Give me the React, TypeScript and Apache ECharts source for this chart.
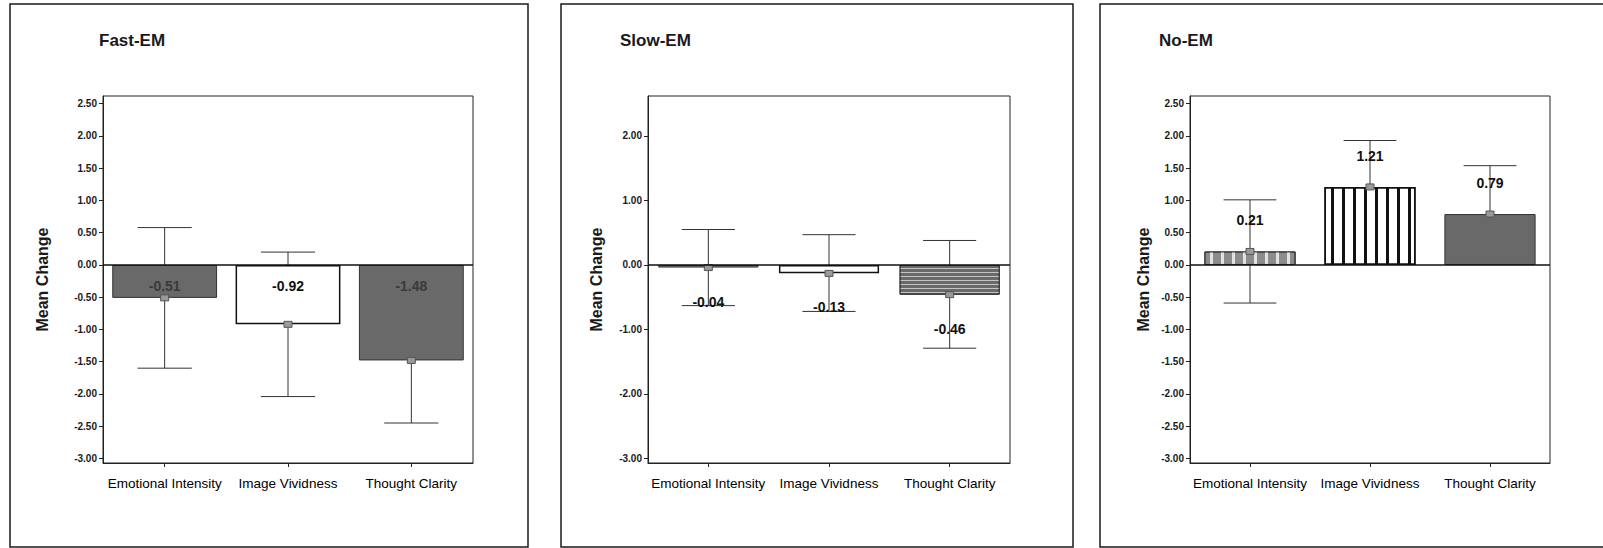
import React, { useEffect, useRef } from "react";
import * as echarts from "echarts";

// ---------- data ----------
const categories = ["Emotional Intensity", "Image Vividness", "Thought Clarity"];
const panelTitles = ["Fast-EM", "Slow-EM", "No-EM"];

const fastMeans = [-0.51, -0.92, -1.48];
const fastLow = [-1.6, -2.04, -2.45];
const fastHigh = [0.58, 0.2, -0.51];

const slowMeans = [-0.04, -0.13, -0.46];
const slowLow = [-0.63, -0.72, -1.29];
const slowHigh = [0.55, 0.47, 0.38];

const noMeans = [0.21, 1.21, 0.79];
const noLow = [-0.59, 0.49, 0.04];
const noHigh = [1.01, 1.93, 1.54];

const ticksHalf = [-3, -2.5, -2, -1.5, -1, -0.5, 0, 0.5, 1, 1.5, 2, 2.5];
const ticksOne = [-3, -2, -1, 0, 1, 2];

const yMin = -3.07;
const yMax = 2.62;

// ---------- styles ----------
const FONT = "Liberation Sans, Arial, Helvetica, sans-serif";
const DARK = "#696969";

const vStripesBlack = {
  symbol: "rect",
  symbolSize: 1,
  color: "#111",
  backgroundColor: "#fff",
  dashArrayX: [3, 8],
  dashArrayY: [1, 0],
  rotation: 0,
};
const vStripesLight = {
  symbol: "rect",
  symbolSize: 1,
  color: "#e2e2e2",
  backgroundColor: "#8c8c8c",
  dashArrayX: [3, 8],
  dashArrayY: [1, 0],
  rotation: 0,
};
const hStripesLight = {
  symbol: "rect",
  symbolSize: 1,
  color: "#c4c4c4",
  backgroundColor: "#6a6a6a",
  dashArrayX: [1, 0],
  dashArrayY: [1, 3],
  rotation: 0,
};

type Panel = {
  title: string;
  titleLeft: number;
  means: number[];
  low: number[];
  high: number[];
  ticks: number[];
  grid: { left: number; top: number; width: number; height: number };
  nameGap: number;
  barGap: string;
  itemStyles: any[];
  labelMode: "zero" | "below" | "above";
  labelColors: string[];
};

const panels: Panel[] = [
  {
    title: panelTitles[0],
    titleLeft: 99,
    means: fastMeans,
    low: fastLow,
    high: fastHigh,
    ticks: ticksHalf,
    grid: { left: 103, top: 96, width: 370, height: 367 },
    nameGap: 53,
    barGap: "15%",
    itemStyles: [
      { color: DARK, borderColor: "#333", borderWidth: 1 },
      { color: "#fff", borderColor: "#111", borderWidth: 1.5 },
      { color: DARK, borderColor: "#333", borderWidth: 1 },
    ],
    labelMode: "zero",
    labelColors: ["#3a3a3a", "#111", "#3a3a3a"],
  },
  {
    title: panelTitles[1],
    titleLeft: 620,
    means: slowMeans,
    low: slowLow,
    high: slowHigh,
    ticks: ticksOne,
    grid: { left: 648, top: 96, width: 362, height: 367 },
    nameGap: 44,
    barGap: "17%",
    itemStyles: [
      { color: "#777", borderColor: "#333", borderWidth: 1 },
      { color: "#fff", borderColor: "#111", borderWidth: 1.5 },
      { color: "#6a6a6a", borderColor: "#333", borderWidth: 1, decal: hStripesLight },
    ],
    labelMode: "below",
    labelColors: ["#111", "#111", "#111"],
  },
  {
    title: panelTitles[2],
    titleLeft: 1159,
    means: noMeans,
    low: noLow,
    high: noHigh,
    ticks: ticksHalf,
    grid: { left: 1190, top: 96, width: 360, height: 367 },
    nameGap: 39,
    barGap: "24%",
    itemStyles: [
      { color: "#8c8c8c", borderColor: "#333", borderWidth: 1, decal: vStripesLight },
      { color: "#fff", borderColor: "#111", borderWidth: 1.5, decal: vStripesBlack },
      { color: DARK, borderColor: "#333", borderWidth: 1 },
    ],
    labelMode: "above",
    labelColors: ["#111", "#111", "#111"],
  },
];

const frames = [
  { x: 10, y: 4, width: 518, height: 543 },
  { x: 561, y: 4, width: 512, height: 543 },
  { x: 1100, y: 4, width: 520, height: 543 },
];

function buildOption() {
  const grid: any[] = [];
  const xAxis: any[] = [];
  const yAxis: any[] = [];
  const series: any[] = [];
  const title: any[] = [];

  panels.forEach((p, gi) => {
    grid.push({
      ...p.grid,
      show: true,
      borderColor: "#222",
      borderWidth: 1,
      backgroundColor: "#fff",
      containLabel: false,
    });
    title.push({
      text: p.title,
      left: p.titleLeft,
      top: 32,
      padding: 0,
      textStyle: { fontFamily: FONT, fontSize: 17, fontWeight: "bold", color: "#1a1a1a" },
    });
    xAxis.push({
      type: "category",
      gridIndex: gi,
      data: categories,
      axisLine: { show: true, onZero: false, lineStyle: { color: "#222", width: 1 } },
      axisTick: { show: true, alignWithLabel: true, length: 4, lineStyle: { color: "#222" } },
      axisLabel: { fontFamily: FONT, fontSize: 13.5, color: "#000", margin: 13, interval: 0 },
      splitLine: { show: false },
    });
    yAxis.push({
      type: "value",
      gridIndex: gi,
      min: yMin,
      max: yMax,
      name: "Mean Change",
      nameLocation: "middle",
      nameGap: p.nameGap,
      nameTextStyle: { fontFamily: FONT, fontSize: 16, fontWeight: "bold", color: "#1a1a1a" },
      axisLine: { show: true, lineStyle: { color: "#222", width: 1 } },
      axisTick: { show: true, length: 4, customValues: p.ticks, lineStyle: { color: "#222" } },
      axisLabel: {
        customValues: p.ticks,
        formatter: (v: number) => v.toFixed(2),
        fontFamily: FONT,
        fontSize: 10,
        fontWeight: "bold",
        color: "#1a1a1a",
        margin: 6,
      },
      splitLine: { show: false },
    });

    // error bars (behind the bars)
    series.push({
      type: "custom",
      xAxisIndex: gi,
      yAxisIndex: gi,
      z: 1,
      silent: true,
      data: p.means.map((_, i) => [i, p.low[i], p.high[i]]),
      renderItem: (params: any, api: any) => {
        const i = api.value(0);
        const lo = api.coord([i, api.value(1)]);
        const hi = api.coord([i, api.value(2)]);
        const band = api.size([1, 0])[0];
        const half = band * 0.22;
        const style = { stroke: "#333", lineWidth: 1, fill: "none" };
        return {
          type: "group",
          children: [
            { type: "line", shape: { x1: lo[0], y1: lo[1], x2: hi[0], y2: hi[1] }, style },
            { type: "line", shape: { x1: lo[0] - half, y1: lo[1], x2: lo[0] + half, y2: lo[1] }, style },
            { type: "line", shape: { x1: hi[0] - half, y1: hi[1], x2: hi[0] + half, y2: hi[1] }, style },
          ],
        };
      },
    });

    // bars
    series.push({
      type: "bar",
      xAxisIndex: gi,
      yAxisIndex: gi,
      z: 2,
      barCategoryGap: p.barGap,
      silent: true,
      data: p.means.map((m, i) => ({ value: m, itemStyle: p.itemStyles[i] })),
      markLine: {
        silent: true,
        symbol: "none",
        label: { show: false },
        lineStyle: { color: "#111", width: 1.5, type: "solid" },
        data: [{ yAxis: 0 }],
      },
    });

    // mean markers and value labels (on top)
    series.push({
      type: "custom",
      xAxisIndex: gi,
      yAxisIndex: gi,
      z: 3,
      silent: true,
      data: p.means.map((m, i) => [i, m]),
      renderItem: (params: any, api: any) => {
        const i = api.value(0);
        const m = api.value(1);
        const pt = api.coord([i, m]);
        const zero = api.coord([i, 0]);
        let ly = pt[1];
        if (p.labelMode === "zero") ly = zero[1] + 21;
        else if (p.labelMode === "below") ly = pt[1] + 34;
        else ly = pt[1] - 31;
        return {
          type: "group",
          children: [
            {
              type: "rect",
              shape: { x: pt[0] - 4, y: pt[1] - 3, width: 8, height: 6 },
              style: { fill: "#9a9a9a", stroke: "#555", lineWidth: 1 },
            },
            {
              type: "text",
              x: pt[0],
              y: ly,
              style: {
                text: m.toFixed(2),
                font: `bold 14px ${FONT}`,
                fill: p.labelColors[i],
                textAlign: "center",
                textVerticalAlign: "middle",
              },
            },
          ],
        };
      },
    });
  });

  return {
    animation: false,
    backgroundColor: "#fff",
    title,
    grid,
    xAxis,
    yAxis,
    series,
    graphic: frames.map((f) => ({
      type: "rect",
      shape: f,
      silent: true,
      z: 0,
      style: { fill: "none", stroke: "#1a1a1a", lineWidth: 1.5 },
    })),
  };
}

export default function App() {
  const ref = useRef<HTMLDivElement>(null);
  useEffect(() => {
    if (!ref.current) return;
    const chart = echarts.init(ref.current, null, { renderer: "svg" });
    chart.setOption(buildOption() as any);
    return () => chart.dispose();
  }, []);
  return (
    <div
      ref={ref}
      style={{ position: "fixed", left: 0, top: 0, width: 1603, height: 548, background: "#fff" }}
    />
  );
}
